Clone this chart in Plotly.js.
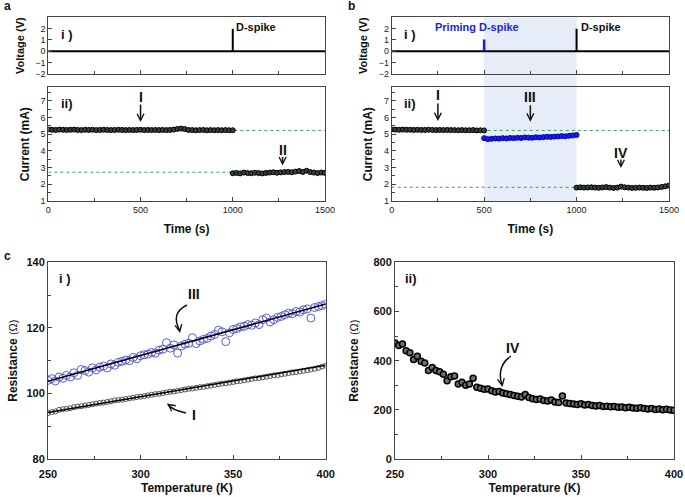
<!DOCTYPE html>
<html><head><meta charset="utf-8">
<script src="https://cdn.plot.ly/plotly-3.0.1.min.js"></script>
<style>html,body{margin:0;padding:0;background:#fff}#chart{width:685px;height:497px}</style>
</head><body><div id="chart"></div>
<script>
// ---------- data ----------
// Panel a/b voltage pulses (time s, voltage V)
const pulseT = [0, 1000, 1000, 1000, 1500];
const pulseV = [0, 0, 2, 0, 0];
const primeT = [500, 500];
const primeV = [0, 1.05];
const primingWindow = [500, 1000];
// current traces, sampled every 20 s
const sampleStep = 20;
const curA_I  = [5.28,5.26,5.25,5.27,5.26,5.25,5.26,5.27,5.25,5.24,
                 5.26,5.25,5.26,5.24,5.25,5.26,5.25,5.24,5.25,5.26,
                 5.25,5.24,5.25,5.24,5.25,5.26,5.24,5.25,5.24,5.25,
                 5.24,5.25,5.24,5.25,5.27,5.31,5.33,5.30,5.25,5.24,
                 5.23,5.24,5.25,5.23,5.24,5.23,5.24,5.23,5.24,5.23,5.23];
const curA_II = [2.66,2.68,2.65,2.70,2.67,2.66,2.69,2.67,2.65,2.68,
                 2.70,2.72,2.69,2.71,2.73,2.74,2.72,2.76,2.79,2.74,
                 2.81,2.73,2.70,2.67,2.70,2.68];
const curB_I  = [5.28,5.27,5.26,5.27,5.26,5.26,5.25,5.26,5.25,5.25,
                 5.26,5.25,5.24,5.25,5.24,5.25,5.24,5.24,5.23,5.24,
                 5.23,5.23,5.24,5.22,5.23,5.22];
const curB_III= [4.76,4.70,4.72,4.74,4.73,4.76,4.74,4.77,4.76,4.78,
                 4.77,4.80,4.79,4.78,4.81,4.80,4.82,4.84,4.83,4.85,
                 4.86,4.88,4.87,4.90,4.92,4.95];
const curB_IV = [1.80,1.82,1.80,1.81,1.82,1.80,1.79,1.81,1.83,1.80,
                 1.78,1.80,1.86,1.82,1.80,1.78,1.79,1.80,1.79,1.78,
                 1.80,1.79,1.81,1.84,1.88,1.92];
const refLevelsA = [5.22, 2.72];
const refLevelsB = [5.22, 1.82];
// Panel c: resistance vs temperature, sampled every 2 K from 250 K
const tempStart = 250, tempStep = 2;
const resIII = [104.0,104.5,103.8,105.0,104.6,105.5,105.0,106.3,105.5,107.3,
                107.0,106.5,107.8,107.2,108.0,108.4,107.8,109.0,108.6,109.5,
                109.8,110.2,110.0,111.0,110.6,111.5,111.8,112.0,112.5,112.3,
                113.2,113.5,115.5,113.8,114.8,112.3,114.5,115.0,115.3,117.0,
                115.2,116.0,116.5,116.8,117.5,118.0,119.3,118.8,115.8,118.5,
                119.5,119.8,120.3,120.5,121.0,120.8,121.5,121.0,122.5,123.0,
                121.8,122.5,123.2,123.5,124.0,124.5,124.3,125.0,124.8,125.5,
                125.8,123.0,126.2,126.5,126.8,127.2];
const resI   = [94.0,94.3,94.5,95.0,95.2,95.3,95.5,95.8,96.0,96.1,
                96.3,96.5,96.7,96.9,97.1,97.2,97.4,97.6,97.9,98.0,
                98.1,98.3,98.5,98.7,98.9,99.0,99.2,99.4,99.6,99.8,
                99.9,100.1,100.3,100.5,100.6,100.8,101.0,101.2,101.4,101.5,
                101.7,101.9,102.0,102.2,102.4,102.6,102.8,103.0,103.1,103.3,
                103.5,103.7,103.8,104.0,104.2,104.4,104.6,104.7,104.9,105.1,
                105.3,105.5,105.6,105.8,106.0,106.2,106.4,106.5,106.7,106.9,
                107.1,107.3,107.5,107.8,108.2,108.5];
const fitT   = [250, 400];
const fitIII = [103.7, 127.3];
const fitI   = [94.2, 108.6];
const resIV  = [472,462,468,440,432,405,418,398,390,360,
                372,360,355,345,318,335,338,305,312,300,
                305,328,292,288,284,285,278,272,275,268,
                265,262,258,255,252,262,250,245,242,244,
                238,236,240,232,230,256,228,226,224,222,
                225,220,222,218,216,218,214,215,212,214,
                210,211,208,210,207,206,208,205,203,205,
                201,203,200,202,199,198];

// ---------- layout helpers ----------
const W = 685, H = 497;
const FONT = 'Liberation Sans, Arial, sans-serif';
const px = v => v / W;
const py = v => 1 - v / H;
const dX = (a, b) => [px(a), px(b)];
const dY = (top, bot) => [py(bot), py(top)];
const LINEC = '#444';
function axis(extra) {
  return Object.assign({
    showline: true, mirror: true, linecolor: LINEC, linewidth: 1,
    ticks: 'inside', ticklen: 4, tickcolor: LINEC, tickwidth: 1,
    showgrid: false, zeroline: false, fixedrange: true,
    tickfont: {family: FONT, size: 9, color: '#222'}
  }, extra);
}
const titleFont = {family: FONT, size: 12, color: '#111', weight: 'bold'};
const boldTick = {family: FONT, size: 11, color: '#111', weight: 'bold'};

const AX = [48.3, 325], BX = [391.7, 669];
const VY = [17.3, 74], CY = [87.3, 201];

const darkMarker = {symbol: 'circle', size: 5, color: '#34403a', line: {color: '#000', width: 1}};
const blueMarker = {symbol: 'circle', size: 5, color: '#1c1cf0', line: {color: '#0000b0', width: 1}};
const refLine = {color: '#3fa060', width: 1, dash: 'dot'};

const traces = [];
// panel a
traces.push({x: pulseT, y: pulseV, xaxis: 'x', yaxis: 'y', mode: 'lines', line: {color: '#000', width: 2}});
refLevelsA.forEach(v => traces.push({x: [0, 1500], y: [v, v], xaxis: 'x2', yaxis: 'y2', mode: 'lines', line: refLine}));
traces.push({x0: 0, dx: sampleStep, y: curA_I, xaxis: 'x2', yaxis: 'y2', mode: 'markers', marker: darkMarker});
traces.push({x0: 1000, dx: sampleStep, y: curA_II, xaxis: 'x2', yaxis: 'y2', mode: 'markers', marker: darkMarker});
// panel b
traces.push({x: pulseT, y: pulseV, xaxis: 'x3', yaxis: 'y3', mode: 'lines', line: {color: '#000', width: 2}});
traces.push({x: primeT, y: primeV, xaxis: 'x3', yaxis: 'y3', mode: 'lines', line: {color: '#1a1ae0', width: 2.5}});
refLevelsB.forEach(v => traces.push({x: [0, 1500], y: [v, v], xaxis: 'x4', yaxis: 'y4', mode: 'lines', line: refLine}));
traces.push({x0: 0, dx: sampleStep, y: curB_I, xaxis: 'x4', yaxis: 'y4', mode: 'markers', marker: darkMarker});
traces.push({x0: 500, dx: sampleStep, y: curB_III, xaxis: 'x4', yaxis: 'y4', mode: 'markers', marker: blueMarker});
traces.push({x0: 1000, dx: sampleStep, y: curB_IV, xaxis: 'x4', yaxis: 'y4', mode: 'markers', marker: darkMarker});
// panel c i
traces.push({x0: tempStart, dx: tempStep, y: resI, xaxis: 'x5', yaxis: 'y5', mode: 'markers',
  marker: {symbol: 'circle-open', size: 5, color: '#555', line: {width: 1}}});
traces.push({x0: tempStart, dx: tempStep, y: resIII, xaxis: 'x5', yaxis: 'y5', mode: 'markers',
  marker: {symbol: 'circle-open', size: 8, color: '#5a5ad8', line: {width: 1}}});
traces.push({x: fitT, y: fitI, xaxis: 'x5', yaxis: 'y5', mode: 'lines', line: {color: '#000', width: 1.5}});
traces.push({x: fitT, y: fitIII, xaxis: 'x5', yaxis: 'y5', mode: 'lines', line: {color: '#000', width: 1.5}});
// panel c ii
traces.push({x0: tempStart, dx: tempStep, y: resIV, xaxis: 'x6', yaxis: 'y6', mode: 'markers',
  marker: {symbol: 'circle', size: 6, color: '#6e6e6e', line: {color: '#000', width: 1.5}}});

const timeX = (dom, anchor, labels) => axis({domain: dom, anchor: anchor, range: [0, 1500], tickvals: [0, 500, 1000, 1500],
  showticklabels: labels, minor: {dtick: 250, ticklen: 3, tickcolor: LINEC, ticks: 'inside'},
  title: labels ? {text: 'Time (s)', font: titleFont, standoff: 10} : undefined});
const voltY = (anchor, dom) => axis({domain: dom, anchor: anchor, range: [-2, 3], tickvals: [-2, -1, 0, 1, 2],
  title: {text: 'Voltage (V)', font: Object.assign({}, titleFont, {size: 11}), standoff: 8}});
const curY = (anchor, dom) => axis({domain: dom, anchor: anchor, range: [1, 7.8], tickvals: [1, 2, 3, 4, 5, 6, 7],
  minor: {dtick: 0.5, ticklen: 3, tickcolor: LINEC, ticks: 'inside'},
  title: {text: 'Current (mA)', font: titleFont, standoff: 8}});
const tempX = (dom, anchor) => axis({domain: dom, anchor: anchor, range: [250, 400], tickvals: [250, 300, 350, 400],
  minor: {dtick: 25, ticklen: 3, tickcolor: LINEC, ticks: 'inside'}, tickfont: boldTick, ticklabelstandoff: 5,
  title: {text: 'Temperature (K)', font: titleFont, standoff: 4}});
const resY = (anchor, dom, rng, vals, minorStep, so) => axis({domain: dom, anchor: anchor, range: rng, tickvals: vals,
  minor: {dtick: minorStep, ticklen: 3, tickcolor: LINEC, ticks: 'inside'}, tickfont: boldTick,
  title: {text: 'Resistance <span style="font-weight:normal;font-size:11px">(Ω)</span>', font: titleFont, standoff: so}});

const annFont = (size, color) => ({family: FONT, size: size, color: color || '#111', weight: 'bold'});
const txt = (text, x, y, size, xanchor, extra) => Object.assign({text: text, xref: 'paper', yref: 'paper',
  x: px(x), y: py(y), xanchor: xanchor || 'left', yanchor: 'middle', showarrow: false, font: annFont(size)}, extra || {});
const downArrow = (xr, yr, x, y, len) => ({text: '', xref: xr, yref: yr, x: x, y: y, ax: 0, ay: -len, showarrow: true,
  arrowhead: 5, arrowsize: 0.9, arrowwidth: 1.5, arrowcolor: '#111', standoff: 0});
const arrowLabel = (xr, yr, x, y, text, shift) => ({text: text, xref: xr, yref: yr, x: x, y: y, yshift: shift,
  showarrow: false, xanchor: 'center', yanchor: 'middle', font: annFont(14)});
const headAt = (x, y, ax, ay) => ({text: '', xref: 'paper', yref: 'paper', x: px(x), y: py(y), ax: ax, ay: ay,
  showarrow: true, arrowhead: 5, arrowsize: 0.9, arrowwidth: 1.5, arrowcolor: '#111', standoff: 0});

const annotations = [
  txt('a', 2, 6, 12), txt('b', 346, 6, 12), txt('c', 2, 256, 12),
  txt('i )', 59, 34, 13), txt('ii)', 59, 103, 13),
  txt('i )', 402, 34, 13), txt('ii)', 402, 103, 13),
  txt('i )', 57, 278, 13), txt('ii)', 403, 278, 13),
  {text: 'D-spike', xref: 'x', yref: 'y', x: 1000, y: 2.15, xanchor: 'left', xshift: 1, yanchor: 'middle', showarrow: false, font: annFont(11)},
  {text: 'D-spike', xref: 'x3', yref: 'y3', x: 1000, y: 2.15, xanchor: 'left', xshift: 2, yanchor: 'middle', showarrow: false, font: annFont(11)},
  {text: 'Priming D-spike', xref: 'x3', yref: 'y3', x: 460, y: 2.15, xanchor: 'center', yanchor: 'middle', showarrow: false, font: annFont(11, '#2424d8')},
  downArrow('x2', 'y2', 500, 5.72, 19), arrowLabel('x2', 'y2', 500, 5.72, 'I', 25),
  downArrow('x2', 'y2', 1270, 3.13, 10), arrowLabel('x2', 'y2', 1270, 3.13, 'II', 15),
  downArrow('x4', 'y4', 250, 5.78, 19), arrowLabel('x4', 'y4', 250, 5.78, 'I', 26),
  downArrow('x4', 'y4', 750, 5.74, 18), arrowLabel('x4', 'y4', 750, 5.74, 'III', 25),
  downArrow('x4', 'y4', 1240, 2.97, 10), arrowLabel('x4', 'y4', 1240, 2.97, 'IV', 15),
  txt('III', 194, 294, 14, 'center'), headAt(180, 333, -1, -5),
  txt('I', 194, 415, 14, 'center'), headAt(167, 403.5, 4, 3),
  txt('IV', 513, 348, 14, 'center'), headAt(502.5, 387, -1, -5)
];

const pathPx = pts => 'M' + px(pts[0]) + ',' + py(pts[1]) + ' Q' + px(pts[2]) + ',' + py(pts[3]) + ' ' + px(pts[4]) + ',' + py(pts[5]);
const curve = pts => ({type: 'path', xref: 'paper', yref: 'paper', path: pathPx(pts), line: {color: '#111', width: 1.5}});

const shapes = [
  {type: 'rect', xref: 'x4', yref: 'paper', x0: primingWindow[0], x1: primingWindow[1], y0: py(CY[1]), y1: py(VY[0]),
   fillcolor: '#e6edf8', line: {width: 0}, layer: 'below'},
  curve([187, 305, 170, 313, 180, 331]),
  curve([186, 413, 172, 410, 168, 404.5]),
  curve([511, 356, 496, 366, 502, 385])
];

const layout = {
  width: W, height: H, margin: {l: 0, r: 0, t: 0, b: 0},
  paper_bgcolor: '#fff', plot_bgcolor: 'rgba(0,0,0,0)', showlegend: false,
  font: {family: FONT, color: '#111'},
  xaxis: timeX(dX(AX[0], AX[1]), 'y', false),
  yaxis: voltY('x', dY(VY[0], VY[1])),
  xaxis2: timeX(dX(AX[0], AX[1]), 'y2', true),
  yaxis2: curY('x2', dY(CY[0], CY[1])),
  xaxis3: timeX(dX(BX[0], BX[1]), 'y3', false),
  yaxis3: voltY('x3', dY(VY[0], VY[1])),
  xaxis4: timeX(dX(BX[0], BX[1]), 'y4', true),
  yaxis4: curY('x4', dY(CY[0], CY[1])),
  xaxis5: tempX(dX(48, 325.7), 'y5'),
  yaxis5: resY('x5', dY(262.3, 459), [80, 140], [80, 100, 120, 140], 10, 6),
  xaxis6: tempX(dX(395, 674), 'y6'),
  yaxis6: resY('x6', dY(262.3, 459), [0, 800], [0, 200, 400, 600, 800], 100, 12),
  annotations: annotations,
  shapes: shapes
};

Plotly.newPlot('chart', traces, layout, {displayModeBar: false, staticPlot: true});
</script></body></html>
